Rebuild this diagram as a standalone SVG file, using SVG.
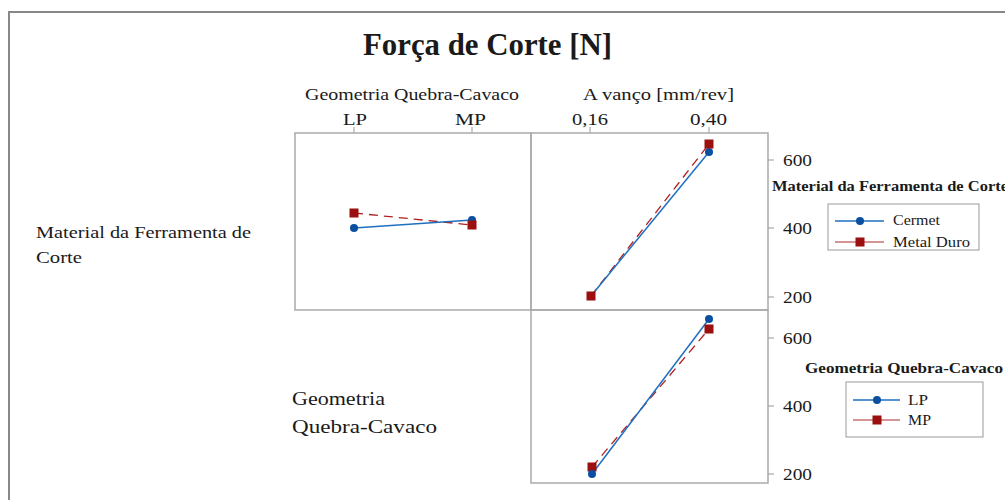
<svg xmlns="http://www.w3.org/2000/svg" width="1005" height="500" viewBox="0 0 1005 500">
<style>
text{font-family:"Liberation Serif","Times New Roman",serif;fill:#1a1a1a}
.ax{font-size:16px}
.num{font-size:16px}
.pan{fill:none;stroke:#aaa;stroke-width:1.5}
.tk{stroke:#999;stroke-width:1}
.blue{stroke:#1f6fc0;stroke-width:1.5;fill:none}
.red{stroke:#b02020;stroke-width:1.3;fill:none;stroke-dasharray:9,6}
.lb{font-size:15px}
.legt{font-size:14px;font-weight:bold}
.leg{fill:#fff;stroke:#999;stroke-width:1}
</style>
<defs>
<circle id="dot" r="4" fill="#0a4fa0"/>
<rect id="sq" x="-4.5" y="-4.5" width="9" height="9" fill="#9b0f0f"/>
</defs>
<rect x="9" y="12" width="1010" height="500" fill="#fff" stroke="#888" stroke-width="2"/>
<text x="363" y="55" font-size="31" font-weight="bold" textLength="249" lengthAdjust="spacingAndGlyphs">Força de Corte [N]</text>

<g id="top-axis">
<text class="ax" x="305" y="100" textLength="214" lengthAdjust="spacingAndGlyphs">Geometria Quebra-Cavaco</text>
<text class="ax" x="583" y="100" textLength="151" lengthAdjust="spacingAndGlyphs">A vanço [mm/rev]</text>
<text class="ax" x="343" y="125" textLength="24" lengthAdjust="spacingAndGlyphs">LP</text>
<text class="ax" x="455" y="125" textLength="31" lengthAdjust="spacingAndGlyphs">MP</text>
<text class="ax" x="572" y="125" textLength="36" lengthAdjust="spacingAndGlyphs">0,16</text>
<text class="ax" x="690" y="125" textLength="37" lengthAdjust="spacingAndGlyphs">0,40</text>
<line class="tk" x1="354" y1="127" x2="354" y2="133"/>
<line class="tk" x1="472" y1="127" x2="472" y2="133"/>
<line class="tk" x1="590" y1="127" x2="590" y2="133"/>
<line class="tk" x1="709" y1="127" x2="709" y2="133"/>
</g>

<g id="row-labels">
<text x="36" y="238" font-size="17" textLength="215" lengthAdjust="spacingAndGlyphs">Material da Ferramenta de</text>
<text x="36" y="263" font-size="17" textLength="46" lengthAdjust="spacingAndGlyphs">Corte</text>
<text x="292" y="405" font-size="19" textLength="93" lengthAdjust="spacingAndGlyphs">Geometria</text>
<text x="292" y="433" font-size="19" textLength="145" lengthAdjust="spacingAndGlyphs">Quebra-Cavaco</text>
</g>

<g id="panel-top-left">
<rect class="pan" x="295" y="133" width="236" height="177"/>
</g>
<g id="panel-top-right">
<rect class="pan" x="531" y="133" width="237" height="177"/>
</g>
<g id="panel-bottom-right">
<rect class="pan" x="531" y="310" width="237" height="173"/>
</g>

<g id="right-axis">
<line class="tk" x1="768" y1="160" x2="774" y2="160"/>
<line class="tk" x1="768" y1="228" x2="774" y2="228"/>
<line class="tk" x1="768" y1="297" x2="774" y2="297"/>
<text class="num" x="783" y="166" textLength="29" lengthAdjust="spacingAndGlyphs">600</text>
<text class="num" x="783" y="234" textLength="29" lengthAdjust="spacingAndGlyphs">400</text>
<text class="num" x="783" y="303" textLength="29" lengthAdjust="spacingAndGlyphs">200</text>
<line class="tk" x1="768" y1="338" x2="774" y2="338"/>
<line class="tk" x1="768" y1="406" x2="774" y2="406"/>
<line class="tk" x1="768" y1="474" x2="774" y2="474"/>
<text class="num" x="783" y="344" textLength="29" lengthAdjust="spacingAndGlyphs">600</text>
<text class="num" x="783" y="412" textLength="29" lengthAdjust="spacingAndGlyphs">400</text>
<text class="num" x="783" y="480" textLength="29" lengthAdjust="spacingAndGlyphs">200</text>
</g>

<g id="connectors">
<polyline class="red" points="354,213 472,225"/>
<polyline class="blue" points="354,228 472,220"/>
<polyline class="red" points="591,296 709,144"/>
<polyline class="blue" points="591,296 709,152"/>
<polyline class="red" points="592,467 709,329"/>
<polyline class="blue" points="592,474 709,319"/>
</g>

<g id="markers">
<use href="#dot" x="354" y="228"/>
<use href="#dot" x="472" y="220"/>
<use href="#sq" x="354" y="213"/>
<use href="#sq" x="472" y="225"/>
<use href="#dot" x="591" y="296"/>
<use href="#dot" x="709" y="152"/>
<use href="#sq" x="591" y="296"/>
<use href="#sq" x="709" y="144"/>
<use href="#sq" x="592" y="467"/>
<use href="#sq" x="709" y="329"/>
<use href="#dot" x="592" y="474"/>
<use href="#dot" x="709" y="319"/>
</g>

<g id="legend-material">
<text class="legt" x="772" y="191" textLength="236" lengthAdjust="spacingAndGlyphs">Material da Ferramenta de Corte</text>
<rect class="leg" x="828" y="204" width="151" height="46"/>
<line class="blue" x1="835" y1="221" x2="884" y2="221"/>
<use href="#dot" x="860" y="221"/>
<line stroke="#c87070" stroke-width="1.3" x1="835" y1="242" x2="884" y2="242"/>
<use href="#sq" x="860" y="242"/>
<text class="lb" x="893" y="225" textLength="47" lengthAdjust="spacingAndGlyphs">Cermet</text>
<text class="lb" x="893" y="247" textLength="77" lengthAdjust="spacingAndGlyphs">Metal Duro</text>
</g>

<g id="legend-geometria">
<text class="legt" x="805" y="373" textLength="198" lengthAdjust="spacingAndGlyphs">Geometria Quebra-Cavaco</text>
<rect class="leg" x="846" y="382" width="137" height="55"/>
<line class="blue" x1="853" y1="400" x2="900" y2="400"/>
<use href="#dot" x="877" y="400"/>
<line stroke="#c87070" stroke-width="1.3" x1="853" y1="420" x2="900" y2="420"/>
<use href="#sq" x="877" y="420"/>
<text class="lb" x="908" y="405" textLength="20" lengthAdjust="spacingAndGlyphs">LP</text>
<text class="lb" x="908" y="425" textLength="23" lengthAdjust="spacingAndGlyphs">MP</text>
</g>
</svg>
